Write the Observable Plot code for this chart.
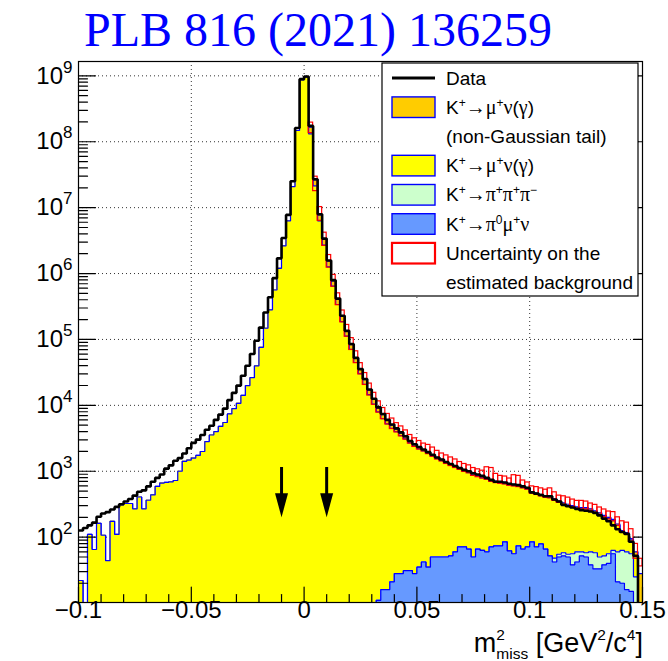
<!DOCTYPE html>
<html><head><meta charset="utf-8">
<script src="https://cdn.jsdelivr.net/npm/d3@7"></script>
<script src="https://cdn.jsdelivr.net/npm/@observablehq/plot@0.6"></script>
<style>
html,body{margin:0;padding:0;background:#fff;}
#title{display:block;}
#chart svg{display:block;overflow:visible;}
</style></head>
<body>
<svg id="title" width="668" height="58"><text x="84" y="46" fill="#0000ff" font-family="'Liberation Serif','Times New Roman',serif" font-size="48">PLB 816 (2021) 136259</text></svg>
<div id="chart"></div>
<script>
// ---- binning ----
const binLow = -0.1, binWidth = 0.002;

// ---- series (counts per bin, 125 bins from -0.1 to 0.15) ----
const dataCounts = [
126,138,151,166,204,229,240,263,288,316,
347,380,427,490,513,589,692,794,891,1096,
1230,1445,1585,1862,2239,2692,3020,3548,4266,4898,
6026,7244,8913,12020,15490,19950,28180,39810,60260,95500,
151400,257000,436500,851000,1.70e6,3.47e6,7.76e6,2.51e7,1.62e8,8.91e8,
9.77e8,1.74e8,2.69e7,7.94e6,3.39e6,1.58e6,7.94e5,4.17e5,2.29e5,1.35e5,
85100,52500,35500,25100,17400,12600,9330,7410,6030,5130,
4470,3890,3390,2880,2570,2340,2140,1950,1780,1620,
1510,1380,1290,1200,1120,1050,1000,933,891,851,
794,741,692,692,676,646,631,617,589,562,
479,457,437,417,417,372,347,309,295,282,
269,257,251,245,234,214,191,174,151,132,
120,112,85,52,0];

// K+ -> mu+ nu (gamma)
const kmunu = [
22,0,110,65,162,107,44,174,110,309,
324,324,269,407,269,363,437,589,661,676,
692,724,1000,1413,1479,1585,1738,1995,2818,3548,
3981,4786,5495,7413,8913,10720,14130,19950,26300,39800,
75900,147900,281800,562300,1.20e6,2.63e6,6.31e6,2.09e7,1.48e8,8.71e8,
9.55e8,1.32e8,2.14e7,6.31e6,2.69e6,1.26e6,6.46e5,3.39e5,1.86e5,1.12e5,
70800,44700,30200,20900,14500,10470,7932,6294,5232,4446,
3953,3439,3059,2661,2371,2153,2000,1827,1648,1499,
1395,1268,1178,1088,1001,929,889,821,766,731,
699,637,602,587,561,555,547,515,496,466,
383,376,348,341,346,315,284,258,247,232,
215,209,211,197,182,174,152,135,115,91,
57,52,35,27,0];

// K+ -> mu+ nu (gamma), non-Gaussian tail
const kmunuTail = [
0,0,0,0,0,0,0,0,0,0,
0,0,0,0,0,0,0,0,0,0,
0,0,0,0,0,0,0,0,0,0,
0,0,0,0,0,0,0,0,0,0,
0,0,0,0,0,0,0,0,0,0,
0,3.4e7,4.9e6,1.45e6,6.2e5,2.9e5,1.3e5,6.8e4,3.8e4,2.0e4,
12400,7800,5300,3600,2500,1830,1180,934,640,545,
384,335,221,192,171,156,96,88,80,73,
69,62,58,54,50,47,45,41,39,38,
35,33,32,31,30,29,28,28,27,25,
22,21,20,20,19,17,16,15,14,14,
13,13,13,12,11,10,10,9,8,7,
6,5,4,8,28];

// K+ -> pi+ pi+ pi-
const k3pi = [
0,0,0,0,0,0,0,0,0,0,
0,0,0,0,0,0,0,0,0,0,
0,0,0,0,0,0,0,0,0,0,
0,0,0,0,0,0,0,0,0,0,
0,0,0,0,0,0,0,0,0,0,
0,0,0,0,0,0,0,0,0,0,
0,0,0,0,0,0,0,0,0,0,
0,0,0,0,0,0,0,0,0,0,
0,0,0,0,0,0,0,0,0,0,
0,0,0,0,0,0,0,0,0,0,
0,0,0,0,0,6,5,6,5,18,
18,8,8,22,25,17,14,16,7,39,
43,44,41,15,0];

// K+ -> pi0 mu+ nu
const kpi0munu = [
0,0,0,0,0,0,0,0,0,0,
0,0,0,0,0,0,0,0,0,0,
0,0,0,0,0,0,0,0,0,0,
0,0,0,0,0,0,0,0,0,0,
0,0,0,0,0,0,0,0,0,0,
0,0,0,0,0,0,0,0,0,0,
0,0,0,0,0,0,11,16,16,21,
28,28,31,31,28,35,42,35,50,50,
50,50,52,60,71,71,66,50,66,63,
60,71,74,74,85,62,56,74,66,71,
85,71,79,66,52,42,50,52,50,38,
42,52,50,38,33,33,38,40,56,21,
20,16,15,10,0];

// Uncertainty on the estimated background (band edges, 0 = no band)
const bandLow = [
0,0,0,0,0,0,0,0,0,0,
0,0,0,0,0,0,0,0,0,0,
0,0,0,0,0,0,0,0,0,0,
0,0,0,0,0,0,0,0,0,0,
0,0,0,0,0,0,0,0,0,0,
0,1.35e8,1.78e7,6.31e6,2.63e6,1.23e6,6.31e5,3.31e5,1.82e5,1.10e5,
69200,43700,29500,20400,14100,10200,7760,6170,5130,4370,
3890,3390,3020,2630,2340,2140,2000,1820,1660,1510,
1410,1290,1200,1120,1050,977,933,851,813,776,
741,692,661,646,631,603,589,575,550,525,
457,437,417,398,389,355,331,309,295,282,
269,263,263,251,234,219,200,186,174,148,
117,110,85,47,36];
const bandHigh = [
0,0,0,0,0,0,0,0,0,0,
0,0,0,0,0,0,0,0,0,0,
0,0,0,0,0,0,0,0,0,0,
0,0,0,0,0,0,0,0,0,0,
0,0,0,0,0,0,0,0,0,0,
0,1.95e8,2.95e7,1.02e7,4.17e6,1.91e6,9.55e5,5.01e5,2.75e5,1.66e5,
104700,66100,43700,30900,21400,15500,11500,9120,7410,6310,
5370,4790,4170,3550,3160,2880,2630,2510,2290,2040,
1860,1740,1620,1510,1380,1290,1230,1120,1070,1020,
1150,1120,912,851,832,776,871,851,724,676,
589,575,550,525,550,479,427,417,398,372,
355,355,347,324,309,282,263,245,240,200,
174,166,132,79,47];

// signal-region arrows
const arrowX = [-0.01, 0.01];
const arrowTop = 1140, arrowShaftEnd = 330, arrowTip = 200;

// ---- axes ----
const xDomain = [-0.1, 0.15];
const yDomain = [10.2, 1.65e9];
const xMajor = [-0.1, -0.05, 0, 0.05, 0.1, 0.15];
const xGrid = [-0.05, 0, 0.05, 0.1];
const xMinor = [-0.09,-0.08,-0.07,-0.06,-0.04,-0.03,-0.02,-0.01,0.01,0.02,0.03,0.04,0.06,0.07,0.08,0.09,0.11,0.12,0.13,0.14];
const yMajor = [1e2, 1e3, 1e4, 1e5, 1e6, 1e7, 1e8, 1e9];
const yMinor = [];
for (let n = 1; n <= 9; n++) for (let k = 2; k <= 9; k++) { const v = k * Math.pow(10, n); if (v > yDomain[0] && v < yDomain[1]) yMinor.push(v); }

const xTickLabel = d => d === 0 ? "0" : (d < 0 ? "\u2212" + String(-d) : String(d));

// ---- colours ----
const colTail = "#ffcc00", colMuNu = "#ffff00", col3pi = "#ccffcc", colPi0 = "#6699ff";
const colLine = "#0000ff", colBand = "#ff0000";

// ---- build bins ----
const bins = dataCounts.map((d, i) => {
  const x0 = binLow + i * binWidth, x1 = binLow + (i + 1) * binWidth;
  const blue = kpi0munu[i];
  const green = blue + k3pi[i];
  const yellow = green + kmunu[i];
  const total = yellow + kmunuTail[i];
  return {i, x0, x1, data: d, blue, green, yellow, total, lo: bandLow[i], hi: bandHigh[i]};
});
const FLOOR = 1;
const steps = key => bins.flatMap(b => { const v = Math.max(b[key], FLOOR); return [{x: b.x0, y: v}, {x: b.x1, y: v}]; });

const layers = [
  {key: "total", fill: colTail},
  {key: "yellow", fill: colMuNu},
  {key: "green", fill: col3pi},
  {key: "blue", fill: colPi0}
];

const tickShape = {draw(context, l) { context.moveTo(0, 0); context.lineTo(0, -l); }};
const headShape = {draw(context) { context.moveTo(0, 0); context.lineTo(-6.5, -24); context.lineTo(6.5, -24); context.closePath(); }};

const gridStyle = {stroke: "#333", strokeOpacity: 1, strokeWidth: 1, strokeDasharray: "1,3"};

const plot = Plot.plot({
  width: 668, height: 603,
  marginLeft: 78, marginRight: 26, marginTop: 3, marginBottom: 59,
  x: {domain: xDomain, axis: null},
  y: {type: "log", domain: yDomain, axis: null},
  style: {fontFamily: "'Liberation Sans', Arial, Helvetica, sans-serif", background: "#fff", color: "#000", overflow: "visible"},
  marks: [
    Plot.gridX(xGrid, gridStyle),
    Plot.gridY(yMajor, gridStyle),
    ...layers.flatMap(L => [
      Plot.areaY(steps(L.key), {x: "x", y1: FLOOR, y2: "y", fill: L.fill, curve: "linear", clip: true}),
      Plot.line(steps(L.key), {x: "x", y: "y", stroke: colLine, strokeWidth: 1.2, curve: "linear", clip: true, strokeLinejoin: "miter"})
    ]),
    Plot.rect(bins.filter(b => b.hi > 0), {x1: "x0", x2: "x1", y1: "lo", y2: "hi", fill: "none", stroke: colBand, strokeWidth: 1.2, clip: true}),
    Plot.line(steps("data"), {x: "x", y: "y", stroke: "#000", strokeWidth: 2.6, curve: "linear", clip: true, strokeLinejoin: "miter"}),
    Plot.ruleX(arrowX, {x: d => d, y1: arrowTop, y2: arrowShaftEnd, stroke: "#000", strokeWidth: 3}),
    Plot.dot(arrowX, {x: d => d, y: arrowTip, symbol: headShape, fill: "#000", stroke: "none", r: 6}),
    // ticks (inward)
    Plot.vector(xMajor, {x: d => d, frameAnchor: "bottom", length: 15.5, anchor: "start", shape: tickShape, stroke: "#000", strokeWidth: 1.2}),
    Plot.vector(xMinor, {x: d => d, frameAnchor: "bottom", length: 8, anchor: "start", shape: tickShape, stroke: "#000", strokeWidth: 1.2}),
    Plot.vector(yMajor, {y: d => d, frameAnchor: "left", rotate: 90, length: 17, anchor: "start", shape: tickShape, stroke: "#000", strokeWidth: 1.2}),
    Plot.vector(yMinor, {y: d => d, frameAnchor: "left", rotate: 90, length: 9, anchor: "start", shape: tickShape, stroke: "#000", strokeWidth: 1.2}),
    Plot.vector(yMajor, {y: d => d, frameAnchor: "right", rotate: -90, length: 9, anchor: "start", shape: tickShape, stroke: "#000", strokeWidth: 1.2}),
    // tick labels
    Plot.text(xMajor, {x: d => d, frameAnchor: "bottom", dy: 15.5, text: xTickLabel, fontSize: 24, fill: "#000"}),
    Plot.text(yMajor, {y: d => d, frameAnchor: "left", dx: -6, textAnchor: "end", text: d => "10^" + Math.round(Math.log10(d)), fontSize: 24, fill: "#000"}),
    Plot.frame({stroke: "#000", strokeWidth: 1.2})
  ]
});
document.getElementById("chart").append(plot);

const svg = d3.select(plot);
// superscript exponents for the log-axis labels
svg.selectAll("text").each(function () {
  const m = /^10\^(\d+)$/.exec(this.textContent);
  if (!m) return;
  const t = d3.select(this);
  t.text(null);
  t.append("tspan").text("10");
  t.append("tspan").attr("font-size", 17).attr("dy", -11).text(m[1]);
});

// ---- x-axis title ----
const OFF = 58; // page offset of the plot svg
const FONT = "'Liberation Sans', Arial, Helvetica, sans-serif";
const GREEK = "'Liberation Serif', 'Times New Roman', serif";
const xt = svg.append("text").attr("x", 643).attr("y", 652 - OFF).attr("text-anchor", "end")
  .attr("font-family", FONT).attr("font-size", 27).attr("fill", "#000");
xt.append("tspan").text("m");
xt.append("tspan").attr("font-size", 15.5).attr("dy", -12).text("2");
xt.append("tspan").attr("font-size", 15.5).attr("dx", -8.6).attr("dy", 19).text("miss");
xt.append("tspan").attr("dy", -7).text("\u00a0[GeV");
xt.append("tspan").attr("font-size", 15.5).attr("dy", -12).text("2");
xt.append("tspan").attr("dy", 12).text("/c");
xt.append("tspan").attr("font-size", 15.5).attr("dy", -12).text("4");
xt.append("tspan").attr("dy", 12).text("]");

// ---- legend ----
const legendRows = [
  {sym: {type: "line"}, label: [["Data"]]},
  {sym: {type: "box", fill: colTail, stroke: colLine}, label: [["K"], ["+", "sup"], ["\u2192", "g"], ["\u03bc", "g"], ["+", "sup"], ["\u03bd", "g"], ["("], ["\u03b3", "g"], [")"]]},
  {sym: null, label: [["(non-Gaussian tail)"]]},
  {sym: {type: "box", fill: colMuNu, stroke: colLine}, label: [["K"], ["+", "sup"], ["\u2192", "g"], ["\u03bc", "g"], ["+", "sup"], ["\u03bd", "g"], ["("], ["\u03b3", "g"], [")"]]},
  {sym: {type: "box", fill: col3pi, stroke: colLine}, label: [["K"], ["+", "sup"], ["\u2192", "g"], ["\u03c0", "g"], ["+", "sup"], ["\u03c0", "g"], ["+", "sup"], ["\u03c0", "g"], ["\u2212", "sup"]]},
  {sym: {type: "box", fill: colPi0, stroke: colLine}, label: [["K"], ["+", "sup"], ["\u2192", "g"], ["\u03c0", "g"], ["0", "sup"], ["\u03bc", "g"], ["+", "sup"], ["\u03bd", "g"]]},
  {sym: {type: "box", fill: "#fff", stroke: colBand, sw: 2.2}, label: [["Uncertainty on the"]]},
  {sym: null, label: [["estimated background"]]}
];
const lg = svg.append("g").attr("font-family", FONT).attr("font-size", 19).attr("fill", "#000").attr("text-anchor", "start");
lg.append("rect").attr("x", 382).attr("y", 63 - OFF).attr("width", 256).attr("height", 233)
  .attr("fill", "#fff").attr("stroke", "#000").attr("stroke-width", 1.2);
legendRows.forEach((r, k) => {
  const cy = 78 + k * 29.2 - OFF;
  if (r.sym && r.sym.type === "line") {
    lg.append("line").attr("x1", 392).attr("x2", 435).attr("y1", cy).attr("y2", cy).attr("stroke", "#000").attr("stroke-width", 3);
  } else if (r.sym) {
    lg.append("rect").attr("x", 392).attr("y", cy - 10.3).attr("width", 43).attr("height", 20.6)
      .attr("fill", r.sym.fill).attr("stroke", r.sym.stroke).attr("stroke-width", r.sym.sw || 1.4);
  }
  const t = lg.append("text").attr("x", 446).attr("y", cy + 6.6).attr("text-anchor", "start");
  let shift = 0;
  r.label.forEach(([s, role]) => {
    const sp = t.append("tspan").text(s);
    const target = role === "sup" ? -7 : 0;
    if (target !== shift) { sp.attr("dy", target - shift); shift = target; }
    if (role === "sup") sp.attr("font-size", 12);
    if (role === "g") sp.attr("font-family", GREEK).attr("font-size", 20);
  });
});
</script>
</body></html>
